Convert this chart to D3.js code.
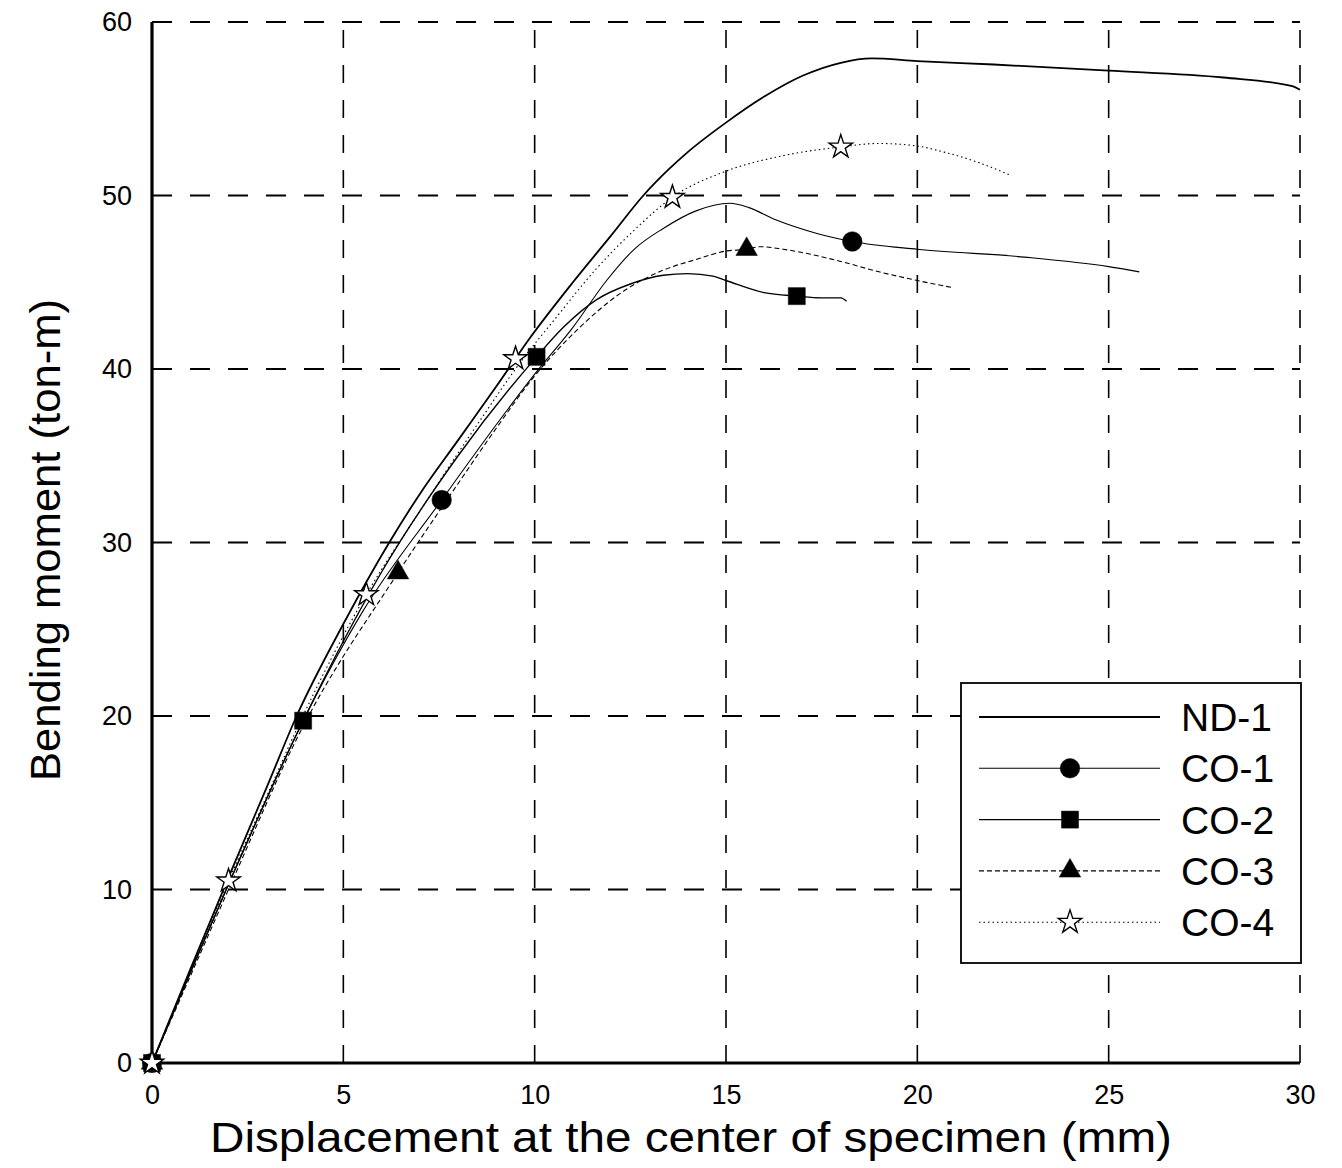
<!DOCTYPE html>
<html>
<head>
<meta charset="utf-8">
<script src="https://cdn.jsdelivr.net/npm/d3@7"></script>
<style>
  body { margin: 0; background: #fff; }
  text { font-family: Arial, "Liberation Sans", Helvetica, sans-serif; fill: #000; }
</style>
</head>
<body>
<svg id="chart"></svg>
<script>
// tick values
const xTicks = [0, 5, 10, 15, 20, 25, 30];
const yTicks = [0, 10, 20, 30, 40, 50, 60];

// curves: [displacement mm, moment ton-m]
const nd1 = [[0,0],[1,5.4],[2,10.7],[3,15.9],[3.78,20],[5,25.3],[6.2,30],[7,32.8],[8,35.9],[9,39.0],[9.88,41.8],
  [11,45.0],[12,47.7],[12.84,50],[13.5,51.5],[14,52.5],[15,54.2],[16,55.7],[17,56.9],[18,57.65],[18.8,57.9],[20,57.75],
  [22,57.55],[25,57.2],[28,56.8],[29.8,56.3],[30,56.1]];
const co1 = [[0,0],[1,5.2],[2,10.3],[3.9,19.5],[5.5,26],[7.57,32.45],[9,36.8],[10,39.7],[11,42.4],[11.88,45.1],
  [12.6,46.9],[13.36,48.1],[14.2,49.1],[15.1,49.55],[15.6,49.3],[16.3,48.6],[17.4,47.8],[18.3,47.35],[20,46.9],
  [22.8,46.45],[25,45.9],[25.8,45.6]];
const co2 = [[0,0],[1,5.2],[2,10.3],[3.95,19.73],[6,28.3],[8,35],[10.05,40.7],[10.75,42.4],[11.62,44.0],[12.5,44.9],
  [13.36,45.4],[14.0,45.5],[14.66,45.35],[15.0,45.1],[16.0,44.4],[16.85,44.2],[17.5,44.1],[18.0,44.1],[18.15,43.9]];
const co3 = [[0,0],[1,5.0],[2,10.0],[3.9,19.2],[6.43,28.26],[8,33.4],[9,36.6],[10,39.6],[11.18,42.4],[12.2,44.3],
  [13.36,45.7],[14.2,46.3],[15.0,46.8],[15.54,46.9],[15.9,47.05],[16.5,46.9],[18,46.2],[19,45.6],[20,45.1],[20.9,44.7]];
const co4 = [[0,0],[1,5.3],[2,10.5],[3,15.4],[3.9,19.8],[5.6,27],[7,31.8],[8.5,36.8],[9.7,40.6],[10.5,42.8],
  [11.62,45.8],[12.6,48],[13.6,49.9],[15,51.4],[16.5,52.3],[18,52.8],[19,53.0],[20,52.85],[20.7,52.5],[21.6,51.9],[22.4,51.2]];

// marker positions
const co1Marks = [[0,0],[7.57,32.45],[18.3,47.35]];
const co2Marks = [[0,0],[3.95,19.73],[10.05,40.7],[16.85,44.2]];
const co3Marks = [[0,0],[6.43,28.26],[15.54,46.9]];
const co4Marks = [[0,0],[2.0,10.5],[5.6,27],[9.5,40.6],[13.6,49.9],[18.0,52.8]];

const seriesNames = ["ND-1", "CO-1", "CO-2", "CO-3", "CO-4"];

const series = [
  { name: seriesNames[0], data: nd1, marks: [], symbol: null, width: 1.8, dash: null },
  { name: seriesNames[1], data: co1, marks: co1Marks, symbol: d3.symbolCircle, size: 300, width: 1.1, dash: null },
  { name: seriesNames[2], data: co2, marks: co2Marks, symbol: d3.symbolSquare, size: 290, width: 1.4, dash: null },
  { name: seriesNames[3], data: co3, marks: co3Marks, symbol: d3.symbolTriangle, size: 200, width: 1.1, dash: "5,3" },
  { name: seriesNames[4], data: co4, marks: co4Marks, symbol: d3.symbolStar, size: 170, width: 1.1, dash: "1.5,3", hollow: true },
];

const W = 1342, H = 1168;
const margin = { top: 22, right: 42, bottom: 105, left: 152 };
const w = W - margin.left - margin.right;
const h = H - margin.top - margin.bottom;

const svg = d3.select("#chart").attr("width", W).attr("height", H);
svg.append("rect").attr("width", W).attr("height", H).attr("fill", "#fff");
const g = svg.append("g").attr("transform", `translate(${margin.left},${margin.top})`);

const x = d3.scaleLinear().domain([0, 30]).range([0, w]);
const y = d3.scaleLinear().domain([0, 60]).range([h, 0]);

// grid
const gGrid = g.append("g").attr("class", "grid").attr("stroke", "#000").attr("fill", "none");
gGrid.selectAll(".hgrid")
  .data(yTicks.filter((d) => d > 0))
  .join("line")
  .attr("class", "hgrid")
  .attr("x1", 0).attr("x2", w)
  .attr("y1", (d) => y(d)).attr("y2", (d) => y(d))
  .attr("stroke-width", 2)
  .attr("stroke-dasharray", "20,18");
gGrid.selectAll(".vgrid")
  .data(xTicks.filter((d) => d > 0))
  .join("line")
  .attr("class", "vgrid")
  .attr("x1", (d) => x(d)).attr("x2", (d) => x(d))
  .attr("y1", h).attr("y2", 0)
  .attr("stroke-width", 1.6)
  .attr("stroke-dasharray", "18,17");

// axes
const xAxis = g.append("g")
  .attr("transform", `translate(0,${h})`)
  .call(d3.axisBottom(x).tickValues(xTicks).tickSize(0).tickPadding(22).tickFormat(d3.format("d")));
xAxis.select(".domain").remove();
xAxis.selectAll("text").attr("font-size", 27).attr("font-family", null);

const yAxis = g.append("g")
  .call(d3.axisLeft(y).tickValues(yTicks).tickSize(0).tickPadding(20).tickFormat(d3.format("d")));
yAxis.select(".domain").remove();
yAxis.selectAll("text").attr("font-size", 27).attr("font-family", null);

g.append("line").attr("x1", 0).attr("x2", 0).attr("y1", 0).attr("y2", h + 1.5)
  .attr("stroke", "#000").attr("stroke-width", 3.2);
g.append("line").attr("x1", -1.5).attr("x2", w).attr("y1", h).attr("y2", h)
  .attr("stroke", "#000").attr("stroke-width", 3.2);

// axis titles
svg.append("text")
  .attr("x", 691).attr("y", H - 16)
  .attr("text-anchor", "middle")
  .attr("font-size", 42)
  .attr("textLength", 962).attr("lengthAdjust", "spacingAndGlyphs")
  .text("Displacement at the center of specimen (mm)");
svg.append("text")
  .attr("transform", `translate(60,${margin.top + 518}) rotate(-90)`)
  .attr("text-anchor", "middle")
  .attr("font-size", 42)
  .attr("textLength", 482).attr("lengthAdjust", "spacingAndGlyphs")
  .text("Bending moment (ton-m)");

// curves
const line = d3.line().x((d) => x(d[0])).y((d) => y(d[1])).curve(d3.curveMonotoneX);
const gLines = g.append("g").attr("fill", "none").attr("stroke", "#000");
gLines.selectAll(".curve")
  .data(series)
  .join("path")
  .attr("class", "curve")
  .attr("d", (s) => line(s.data))
  .attr("stroke-width", (s) => s.width)
  .attr("stroke-dasharray", (s) => s.dash);

// markers
const gMarks = g.append("g");
series.filter((s) => s.symbol).forEach((s) => {
  gMarks.selectAll(null)
    .data(s.marks)
    .join("path")
    .attr("d", d3.symbol(s.symbol, s.size))
    .attr("transform", (d) => `translate(${x(d[0])},${y(d[1])})`)
    .attr("fill", s.hollow ? "#fff" : "#000")
    .attr("stroke", "#000")
    .attr("stroke-width", s.hollow ? 1.4 : 0.5);
});

// legend
const lg = svg.append("g").attr("transform", "translate(961,683)");
lg.append("rect").attr("width", 340).attr("height", 280)
  .attr("fill", "#fff").attr("stroke", "#000").attr("stroke-width", 1.8);
const rows = lg.selectAll(".row")
  .data(series)
  .join("g")
  .attr("class", "row")
  .attr("transform", (s, i) => `translate(0,${34 + i * 51.3})`);
rows.append("line")
  .attr("x1", 18).attr("x2", 199).attr("y1", 0).attr("y2", 0)
  .attr("stroke", "#000")
  .attr("stroke-width", (s) => s.width)
  .attr("stroke-dasharray", (s) => s.dash);
rows.filter((s) => s.symbol).append("path")
  .attr("d", (s) => d3.symbol(s.symbol, s.size)())
  .attr("transform", "translate(109,0)")
  .attr("fill", (s) => (s.hollow ? "#fff" : "#000"))
  .attr("stroke", "#000")
  .attr("stroke-width", (s) => (s.hollow ? 1.4 : 0.5));
rows.append("text")
  .attr("x", 220).attr("y", 14)
  .attr("font-size", 39)
  .text((s) => s.name);
</script>
</body>
</html>
